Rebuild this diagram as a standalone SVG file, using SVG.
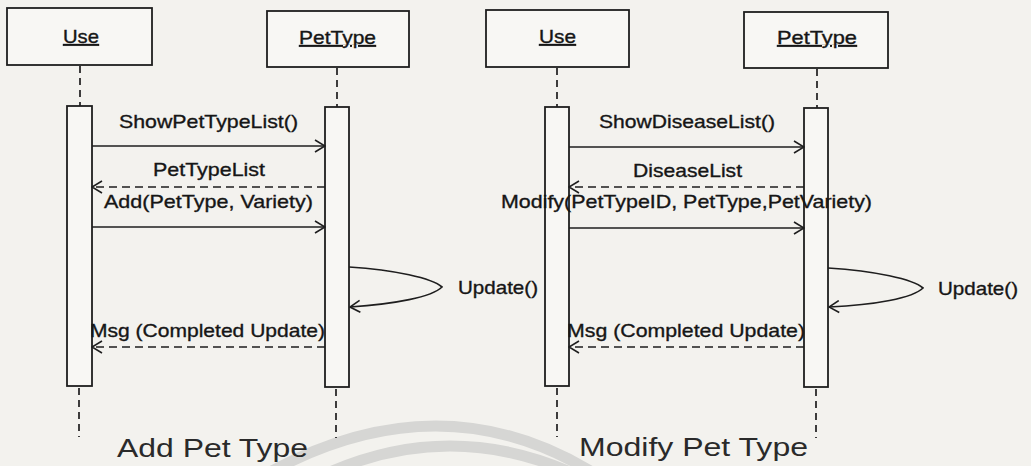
<svg xmlns="http://www.w3.org/2000/svg" width="1031" height="466" viewBox="0 0 1031 466">
  <style>
    .box { fill: #f8f7f4; stroke: #1e1e1e; stroke-width: 1.8; }
    .act { fill: #f8f7f4; stroke: #1e1e1e; stroke-width: 1.8; }
    .life { fill: none; stroke: #1e1e1e; stroke-width: 1.7; stroke-dasharray: 7 5; }
    .call { fill: none; stroke: #1e1e1e; stroke-width: 1.7; marker-end: url(#open); }
    .ret { fill: none; stroke: #1e1e1e; stroke-width: 1.7; stroke-dasharray: 8 5; marker-end: url(#open); }
    .name { font-family: "Liberation Sans", Arial, sans-serif; font-size: 18.5px; fill: #161616; stroke: #161616; stroke-width: 0.35; text-decoration: underline; }
    .msg { font-family: "Liberation Sans", Arial, sans-serif; font-size: 19px; fill: #161616; stroke: #161616; stroke-width: 0.35; }
    .title { font-family: "Liberation Sans", Arial, sans-serif; font-size: 26px; fill: #2a2a2a; }
    .mark { fill: none; stroke: #d6d6d4; stroke-width: 11; }
  </style>
  <defs>
    <marker id="open" viewBox="0 0 12 14" refX="11" refY="7" markerWidth="12" markerHeight="14" markerUnits="userSpaceOnUse" orient="auto">
      <path d="M1,1 L11,7 L1,13" fill="none" stroke="#1e1e1e" stroke-width="1.6"/>
    </marker>
  </defs>

  <rect x="0" y="0" width="1031" height="466" fill="#f3f2ee"/>

  <!-- faint background rings -->
  <g id="watermark">
    <path class="mark" d="M270,472 Q440,380 592,472"/>
    <path class="mark" d="M330,472 Q450,420 570,472"/>
  </g>

  <!-- Add Pet Type: participants -->
  <g id="add-use">
    <rect class="box" x="7" y="8" width="145" height="57"/>
    <text class="name" x="63" y="43" textLength="36" lengthAdjust="spacingAndGlyphs">Use</text>
    <line class="life" x1="80" y1="66" x2="80" y2="106"/>
    <rect class="act" x="67" y="106" width="25" height="280"/>
    <line class="life" x1="79" y1="388" x2="79" y2="437"/>
  </g>
  <g id="add-pettype">
    <rect class="box" x="267" y="11" width="142" height="56"/>
    <text class="name" x="299" y="44" textLength="77" lengthAdjust="spacingAndGlyphs">PetType</text>
    <line class="life" x1="337" y1="68" x2="337" y2="107"/>
    <rect class="act" x="325" y="107" width="24" height="280"/>
    <line class="life" x1="336" y1="389" x2="336" y2="438"/>
  </g>

  <!-- Modify Pet Type: participants -->
  <g id="mod-use">
    <rect class="box" x="486" y="10" width="143" height="57"/>
    <text class="name" x="539" y="43" textLength="37" lengthAdjust="spacingAndGlyphs">Use</text>
    <line class="life" x1="557" y1="68" x2="557" y2="107"/>
    <rect class="act" x="545" y="107" width="24" height="279"/>
    <line class="life" x1="557" y1="388" x2="557" y2="437"/>
  </g>
  <g id="mod-pettype">
    <rect class="box" x="744" y="12" width="144" height="56"/>
    <text class="name" x="777" y="44" textLength="80" lengthAdjust="spacingAndGlyphs">PetType</text>
    <line class="life" x1="817" y1="69" x2="817" y2="108"/>
    <rect class="act" x="804" y="108" width="24" height="279"/>
    <line class="life" x1="816" y1="389" x2="816" y2="438"/>
  </g>

  <!-- messages -->
  <g id="connectors">
    <line class="call" x1="92" y1="146" x2="325" y2="146"/>
    <line class="ret" x1="325" y1="187" x2="92" y2="187"/>
    <line class="call" x1="92" y1="227" x2="325" y2="227"/>
    <path class="call" d="M349,267 C395,270 432,278 442,287 C432,297 395,304 350,307"/>
    <line class="ret" x1="325" y1="347" x2="92" y2="347"/>

    <line class="call" x1="569" y1="147" x2="804" y2="147"/>
    <line class="ret" x1="804" y1="187" x2="569" y2="187"/>
    <line class="call" x1="569" y1="228" x2="804" y2="228"/>
    <path class="call" d="M828,268 C875,271 913,279 923,288 C913,298 875,305 829,307"/>
    <line class="ret" x1="804" y1="347" x2="569" y2="347"/>
  </g>

  <!-- message labels -->
  <g id="labels">
    <text class="msg" x="119" y="128" textLength="179" lengthAdjust="spacingAndGlyphs">ShowPetTypeList()</text>
    <text class="msg" x="153" y="176" textLength="112" lengthAdjust="spacingAndGlyphs">PetTypeList</text>
    <text class="msg" x="104" y="208" textLength="209" lengthAdjust="spacingAndGlyphs">Add(PetType, Variety)</text>
    <text class="msg" x="458" y="294" textLength="80" lengthAdjust="spacingAndGlyphs">Update()</text>
    <text class="msg" x="90" y="337" textLength="235" lengthAdjust="spacingAndGlyphs">Msg (Completed Update)</text>

    <text class="msg" x="599" y="128" textLength="176" lengthAdjust="spacingAndGlyphs">ShowDiseaseList()</text>
    <text class="msg" x="633" y="177" textLength="109" lengthAdjust="spacingAndGlyphs">DiseaseList</text>
    <text class="msg" x="501" y="208" textLength="371" lengthAdjust="spacingAndGlyphs">Modify(PetTypeID, PetType,PetVariety)</text>
    <text class="msg" x="938" y="295" textLength="80" lengthAdjust="spacingAndGlyphs">Update()</text>
    <text class="msg" x="567" y="337" textLength="238" lengthAdjust="spacingAndGlyphs">Msg (Completed Update)</text>
  </g>

  <!-- diagram titles -->
  <g id="titles">
    <text class="title" x="117" y="457" textLength="191" lengthAdjust="spacingAndGlyphs">Add Pet Type</text>
    <text class="title" x="579" y="456" textLength="229" lengthAdjust="spacingAndGlyphs">Modify Pet Type</text>
  </g>
</svg>
